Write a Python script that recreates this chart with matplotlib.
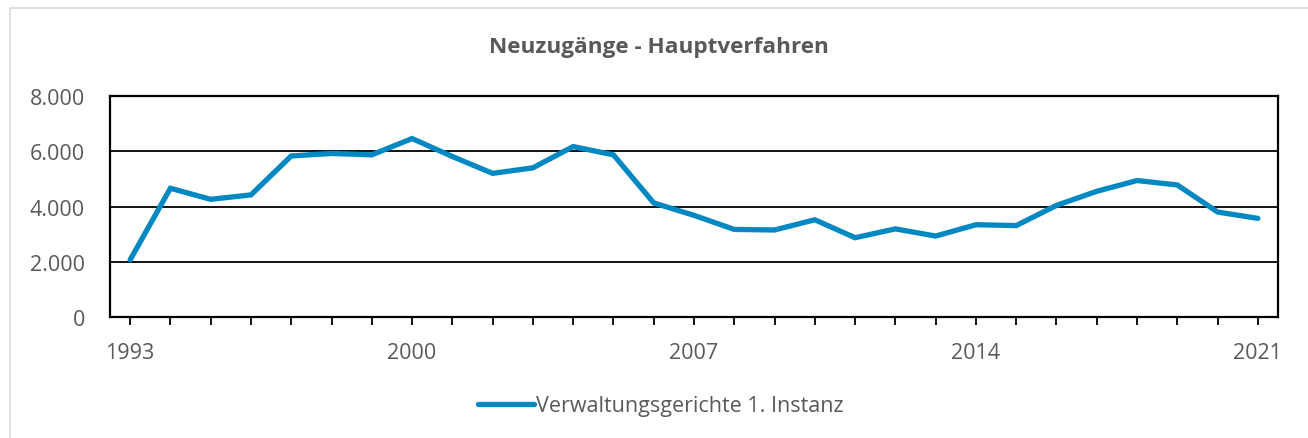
import matplotlib.pyplot as plt
import matplotlib.patches as mpatches
from matplotlib.ticker import FuncFormatter, MultipleLocator

# Daten: Neuzugänge Hauptverfahren, Verwaltungsgerichte 1. Instanz
jahre = list(range(1993, 2022))
neuzugaenge = [2070, 4660, 4260, 4420, 5830, 5920, 5870, 6460, 5810, 5200,
               5400, 6170, 5870, 4130, 3680, 3170, 3150, 3520, 2870, 3190,
               2930, 3340, 3310, 4040, 4550, 4940, 4780, 3800, 3570]
beschriftete_jahre = [1993, 2000, 2007, 2014, 2021]

grau = '#595959'
blau = '#0088C2'

plt.rcParams['font.family'] = ['Open Sans', 'DejaVu Sans']

fig = plt.figure(figsize=(13.08, 4.39), dpi=100)
fig.patch.set_facecolor('white')

# Rahmen um das Diagramm
fig.patches.append(mpatches.Rectangle((10 / 1308, -0.05), 1.1, 1 - 9 / 439 + 0.05,
                                      transform=fig.transFigure, fill=False,
                                      edgecolor='#D9D9D9', linewidth=1.2))

ax = fig.add_axes([110 / 1308, 1 - 318 / 439, 1168 / 1308, 221 / 439])
ax.plot(jahre, neuzugaenge, color=blau, linewidth=3.8,
        solid_joinstyle='miter', solid_capstyle='round',
        label='Verwaltungsgerichte 1. Instanz', zorder=3)

ax.set_xlim(1992.5, 2021.5)
ax.set_ylim(0, 8000)
ax.yaxis.set_major_locator(MultipleLocator(2000))
ax.yaxis.set_major_formatter(FuncFormatter(lambda v, p: f"{int(v):,}".replace(',', '.')))
ax.set_xticks(jahre)
ax.set_xticklabels([str(j) if j in beschriftete_jahre else '' for j in jahre])

ax.grid(axis='y', color='black', linewidth=1.3)
ax.set_axisbelow(True)
for s in ax.spines.values():
    s.set_color('black')
    s.set_linewidth(1.6)

ax.tick_params(axis='x', direction='out', length=6, width=1.3, color='black',
               pad=12, labelsize=15.5, labelcolor=grau)
ax.tick_params(axis='y', length=0, pad=18, labelsize=15.5, labelcolor=grau)

fig.text(0.504, 1 - 48 / 439, 'Neuzugänge - Hauptverfahren', ha='center', va='center',
         fontsize=16.2, fontweight='bold', color=grau)

fig.legend(loc='center', bbox_to_anchor=(0.505, 1 - 407 / 439), frameon=False,
           fontsize=15.5, labelcolor=grau, handlelength=2.6, handletextpad=0.1)

plt.savefig('out.png', dpi=100, facecolor='white')
plt.close()
